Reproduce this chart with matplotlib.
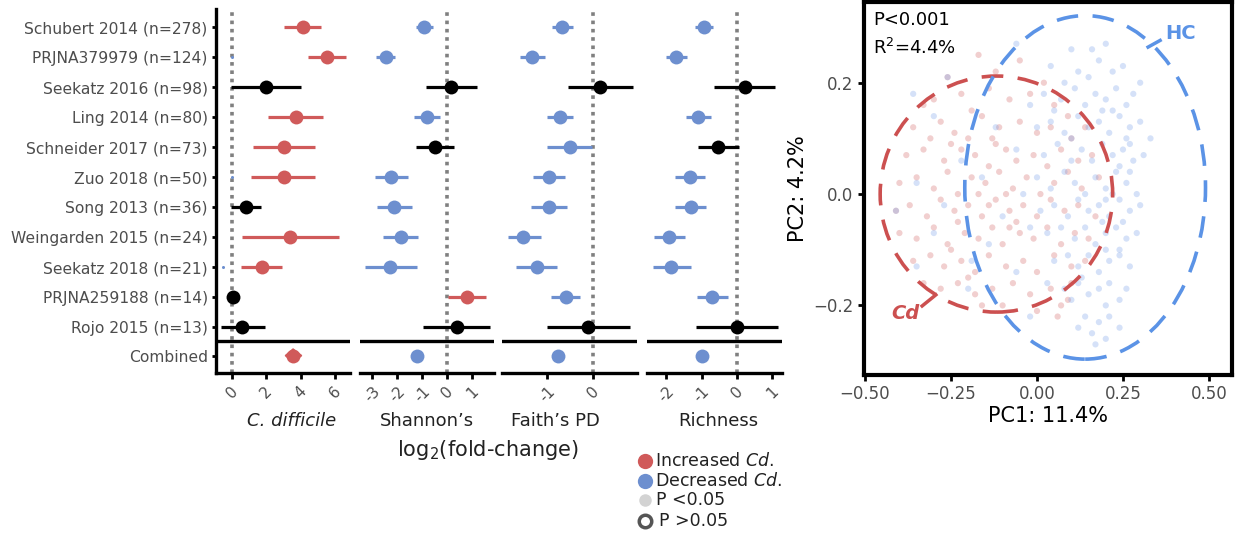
import numpy as np
import matplotlib.pyplot as plt
from matplotlib.patches import Ellipse, Polygon

# ---- forest plot data (log2 fold change) ----
studies = ['Schubert 2014 (n=278)', 'PRJNA379979 (n=124)', 'Seekatz 2016 (n=98)',
           'Ling 2014 (n=80)', 'Schneider 2017 (n=73)', 'Zuo 2018 (n=50)',
           'Song 2013 (n=36)', 'Weingarden 2015 (n=24)', 'Seekatz 2018 (n=21)',
           'PRJNA259188 (n=14)', 'Rojo 2015 (n=13)']

cdiff_est = [4.1, 5.5, 2.0, 3.7, 3.0, 3.0, 0.8, 3.4, 1.75, 0.05, 0.6]
cdiff_lo = [3.0, 4.4, -0.05, 2.1, 1.2, 1.1, -0.05, 0.6, 0.5, 0.05, -0.65]
cdiff_hi = [5.2, 6.6, 4.0, 5.3, 4.8, 4.8, 1.7, 6.2, 2.9, 0.05, 1.9]
cdiff_sig = ['up', 'up', 'ns', 'up', 'up', 'up', 'ns', 'up', 'up', 'ns', 'ns']
cdiff_comb = (3.55, 3.1, 4.05, 'up')

shan_est = [-0.92, -2.44, 0.16, -0.8, -0.48, -2.24, -2.12, -1.84, -2.28, 0.8, 0.4]
shan_lo = [-1.24, -2.84, -0.84, -1.32, -1.24, -2.88, -2.8, -2.56, -3.28, 0.04, -0.96]
shan_hi = [-0.56, -2.08, 1.2, -0.28, 0.28, -1.56, -1.4, -1.16, -1.2, 1.56, 1.72]
shan_sig = ['down', 'down', 'ns', 'down', 'ns', 'down', 'down', 'down', 'down', 'up', 'ns']
shan_comb = (-1.2, -1.2, -1.2, 'down')

faith_est = [-0.67, -1.33, 0.16, -0.71, -0.5, -0.96, -0.96, -1.52, -1.22, -0.59, -0.11]
faith_lo = [-0.89, -1.59, -0.55, -1.0, -1.0, -1.3, -1.35, -1.85, -1.67, -0.91, -1.0]
faith_hi = [-0.43, -1.04, 0.87, -0.43, -0.02, -0.6, -0.57, -1.13, -0.78, -0.28, 0.8]
faith_sig = ['down', 'down', 'ns', 'down', 'down', 'down', 'down', 'down', 'down', 'down', 'ns']
faith_comb = (-0.76, -0.76, -0.76, 'down')

rich_est = [-0.93, -1.72, 0.23, -1.1, -0.54, -1.32, -1.31, -1.91, -1.85, -0.7, 0.0]
rich_lo = [-1.18, -2.0, -0.65, -1.44, -1.1, -1.75, -1.74, -2.35, -2.37, -1.14, -1.15]
rich_hi = [-0.68, -1.41, 1.07, -0.73, 0.06, -0.9, -0.87, -1.48, -1.3, -0.26, 1.15]
rich_sig = ['down', 'down', 'ns', 'down', 'ns', 'down', 'down', 'down', 'down', 'down', 'ns']
rich_comb = (-1.0, -1.0, -1.0, 'down')

# ---- PCoA points (approximate, read by eye) ----
cd_pc1 = [-0.17, -0.05, -0.26, -0.12, 0.02, -0.30, -0.22, -0.14, -0.08, -0.19, 0.05, -0.33, -0.02, 0.09,
          -0.36, -0.28, -0.24, -0.16, -0.11, -0.05, 0.0, 0.04, -0.2, -0.31, 0.1, 0.14, -0.13,
          -0.38, -0.33, -0.27, -0.22, -0.18, -0.14, -0.09, -0.06, -0.01, 0.03, 0.07, 0.12, -0.25, -0.12, 0.16,
          -0.4, -0.35, -0.3, -0.26, -0.23, -0.19, -0.15, -0.11, -0.07, -0.03, 0.01, 0.05, 0.09, 0.13, 0.18, -0.17, -0.09,
          -0.41, -0.37, -0.32, -0.28, -0.24, -0.2, -0.16, -0.12, -0.08, -0.04, 0.0, 0.04, 0.08, 0.12, 0.17, -0.14, -0.06,
          -0.4, -0.35, -0.3, -0.26, -0.21, -0.17, -0.13, -0.1, -0.05, -0.01, 0.03, 0.07, 0.11, 0.15, -0.23, -0.08,
          -0.36, -0.31, -0.27, -0.22, -0.18, -0.14, -0.09, -0.04, 0.0, 0.05, 0.1, 0.14, -0.25,
          -0.33, -0.28, -0.23, -0.18, -0.13, -0.07, -0.02, 0.04, 0.09, 0.06, 0.1, -0.16, -0.2,
          0.07, -0.1, 0.0]
cd_pc2 = [0.25, 0.24, 0.21, 0.22, 0.2, 0.17, 0.18, 0.19, 0.17, 0.15, 0.16, 0.16, 0.18, 0.14,
          0.12, 0.13, 0.11, 0.14, 0.12, 0.13, 0.11, 0.12, 0.1, 0.1, 0.1, 0.12, 0.1,
          0.07, 0.08, 0.06, 0.08, 0.07, 0.05, 0.08, 0.06, 0.07, 0.05, 0.08, 0.06, 0.09, 0.09, 0.07,
          0.02, 0.03, 0.01, 0.04, 0.0, 0.03, 0.02, 0.04, 0.01, 0.03, 0.0, 0.02, 0.04, 0.01, 0.03, 0.0, 0.0,
          -0.03, -0.02, -0.04, -0.01, -0.03, -0.02, -0.04, -0.01, -0.03, -0.02, -0.04, -0.01, -0.03, -0.02, -0.04, -0.02, -0.05,
          -0.07, -0.08, -0.06, -0.09, -0.07, -0.08, -0.06, -0.09, -0.07, -0.08, -0.06, -0.09, -0.07, -0.08, -0.05, -0.06,
          -0.12, -0.11, -0.13, -0.12, -0.14, -0.11, -0.13, -0.12, -0.14, -0.11, -0.13, -0.12, -0.1,
          -0.16, -0.17, -0.16, -0.18, -0.17, -0.16, -0.18, -0.17, -0.19, -0.22, -0.16, -0.2, -0.15,
          -0.2, -0.2, -0.21]

hc_pc1 = [-0.06, 0.1, 0.16, 0.2,
          0.04, 0.12, 0.18, 0.22, 0.25, 0.08, 0.15, -0.26, -0.36,
          0.02, 0.07, 0.11, 0.14, 0.17, 0.2, 0.23, 0.26, 0.28, 0.05, 0.19, 0.3, -0.02,
          0.0, 0.04, 0.08, 0.12, 0.15, 0.18, 0.21, 0.24, 0.27, 0.3, 0.1, 0.22, 0.26, -0.3, -0.12,
          0.02, 0.06, 0.1, 0.13, 0.16, 0.19, 0.22, 0.25, 0.28, 0.31, 0.24, 0.27, -0.06, -0.22, 0.33,
          0.0, 0.04, 0.08, 0.11, 0.14, 0.17, 0.2, 0.23, 0.26, 0.29, 0.22, 0.27, -0.35, -0.16, -0.04,
          0.01, 0.05, 0.09, 0.12, 0.15, 0.18, 0.21, 0.24, 0.27, 0.3, 0.2, 0.25, -0.41, -0.27, -0.1,
          0.03, 0.07, 0.11, 0.14, 0.17, 0.2, 0.23, 0.26, 0.29, 0.19, 0.24, -0.3, -0.14, -0.02,
          0.05, 0.09, 0.12, 0.15, 0.18, 0.21, 0.24, 0.27, 0.2, 0.13, -0.35, -0.19, -0.06,
          0.08, 0.12, 0.15, 0.18, 0.21, 0.24, 0.26, 0.2, 0.1, -0.2, 0.03,
          0.14, 0.18, 0.21, 0.24, 0.2, 0.16, 0.12, 0.17, -0.02]
hc_pc2 = [0.27, 0.26, 0.26, 0.27,
          0.23, 0.22, 0.24, 0.22, 0.23, 0.2, 0.21, 0.21, 0.18,
          0.18, 0.17, 0.19, 0.16, 0.18, 0.17, 0.19, 0.16, 0.18, 0.15, 0.15, 0.2, 0.16,
          0.12, 0.13, 0.11, 0.14, 0.12, 0.13, 0.11, 0.14, 0.12, 0.13, 0.1, 0.15, 0.1, 0.14, 0.12,
          0.07, 0.09, 0.06, 0.08, 0.06, 0.09, 0.07, 0.08, 0.06, 0.07, 0.05, 0.09, 0.08, 0.06, 0.1,
          0.03, 0.01, 0.04, 0.02, 0.0, 0.03, 0.01, 0.04, 0.02, 0.0, 0.0, 0.04, 0.02, 0.03, 0.0,
          -0.03, -0.02, -0.04, -0.01, -0.03, -0.02, -0.04, -0.01, -0.03, -0.02, -0.01, -0.05, -0.03, -0.02, -0.04,
          -0.07, -0.06, -0.08, -0.06, -0.09, -0.07, -0.06, -0.08, -0.07, -0.05, -0.1, -0.07, -0.09, -0.06,
          -0.12, -0.11, -0.13, -0.11, -0.14, -0.12, -0.11, -0.13, -0.1, -0.15, -0.13, -0.12, -0.14,
          -0.17, -0.16, -0.18, -0.17, -0.16, -0.19, -0.17, -0.2, -0.19, -0.17, -0.16,
          -0.22, -0.23, -0.22, -0.24, -0.26, -0.25, -0.24, -0.27, -0.22]

RED = '#d05a5a'
BLUE = '#6d8fcf'
GREY_TXT = '#4d4d4d'
sig_col = {'up': RED, 'down': BLUE, 'ns': 'black'}

plt.rcParams['font.family'] = 'DejaVu Sans'
fig = plt.figure(figsize=(12.41, 5.33), dpi=100)

H = 533.0
W = 1241.0
panels = [
    (216, 350, (-0.93, 6.86), [0, 2, 4, 6], cdiff_est, cdiff_lo, cdiff_hi, cdiff_sig, cdiff_comb),
    (360, 494, (-3.5, 1.88), [-3, -2, -1, 0, 1], shan_est, shan_lo, shan_hi, shan_sig, shan_comb),
    (502, 637, (-1.98, 0.96), [-1, 0], faith_est, faith_lo, faith_hi, faith_sig, faith_comb),
    (647, 782, (-2.54, 1.27), [-2, -1, 0, 1], rich_est, rich_lo, rich_hi, rich_sig, rich_comb),
]
comb_y = 10.95
rows = np.arange(len(studies))

for k, (x0, x1, xl, ticks, est, lo, hi, sig, comb) in enumerate(panels):
    ax = fig.add_axes([x0 / W, 1 - 373 / H, (x1 - x0) / W, 364 / H])
    ax.set_xlim(*xl)
    ax.set_ylim(11.53, -0.6)
    ax.axvline(0, color='#808080', lw=2.6, ls=(0, (1, 1.3)), zorder=1)
    ax.axhline(10.47, color='black', lw=2.4, zorder=2)
    for i in rows:
        c = sig_col[sig[i]]
        ax.plot([lo[i], hi[i]], [i, i], color=c, lw=2.3, solid_capstyle='butt', zorder=3)
        ax.plot(est[i], i, 'o', color=c, ms=10, mec='none', zorder=4)
    ce, cl, ch, cs = comb
    if ch > cl:
        ax.add_patch(Polygon([[cl, comb_y], [ce, comb_y - 0.22], [ch, comb_y], [ce, comb_y + 0.22]],
                             closed=True, color=sig_col[cs], zorder=3))
    ax.plot(ce, comb_y, 'o', color=sig_col[cs], ms=10, mec='none', zorder=4)
    ax.set_xticks(ticks)
    ax.set_xticklabels([str(t) for t in ticks], rotation=45, fontsize=11, color=GREY_TXT)
    ax.tick_params(axis='x', length=4, width=2, pad=4)
    for s in ['top', 'right']:
        ax.spines[s].set_visible(False)
    ax.spines['bottom'].set_linewidth(2.4)
    if k == 0:
        ax.spines['left'].set_linewidth(2.4)
        ax.set_yticks(list(rows) + [comb_y])
        ax.set_yticklabels(studies + ['Combined'], fontsize=11.2, color=GREY_TXT)
        ax.tick_params(axis='y', length=3, width=2, pad=3)
        # near-zero-size points visible in the reference
        ax.plot([0.0, 0.0, -0.55], [1, 5, 8], 'o', color=BLUE, ms=2.2, mec='none', zorder=4)
    else:
        ax.spines['left'].set_visible(False)
        ax.set_yticks([])

# ---- overlay for labels and legend (pixel coordinates) ----
ov = fig.add_axes([0, 0, 1, 1], facecolor='none')
ov.set_xlim(0, W)
ov.set_ylim(H, 0)
ov.axis('off')
ov.text(292, 421, 'C. difficile', fontsize=13, style='italic', ha='center', va='center', color='#222222')
ov.text(427, 421, 'Shannon\u2019s', fontsize=13, ha='center', va='center', color='#222222')
ov.text(555, 421, 'Faith\u2019s PD', fontsize=13, ha='center', va='center', color='#222222')
ov.text(718, 421, 'Richness', fontsize=13, ha='center', va='center', color='#222222')
ov.text(488, 450, r'log$_2$(fold-change)', fontsize=15, ha='center', va='center', color='#222222')

leg_y = [461, 481, 500, 521]
ov.plot(645, leg_y[0], 'o', ms=11, color=RED, mec='none')
ov.plot(645, leg_y[1], 'o', ms=11, color=BLUE, mec='none')
ov.plot(645, leg_y[2], 'o', ms=9, color='#d3d3d3', mec='none')
ov.plot(645, leg_y[3], 'o', ms=9, mfc='white', mec='#555555', mew=2.5)
ov.text(655, leg_y[0], r'Increased $\mathit{Cd.}$', fontsize=12.5, va='center', color='#222222')
ov.text(655, leg_y[1], r'Decreased $\mathit{Cd.}$', fontsize=12.5, va='center', color='#222222')
ov.text(656, leg_y[2], 'P <0.05', fontsize=12.5, va='center', color='#222222')
ov.text(659, leg_y[3], 'P >0.05', fontsize=12.5, va='center', color='#222222')

# ---- PCoA panel ----
ap = fig.add_axes([864 / W, 1 - 375 / H, 368 / W, 373 / H])
ap.scatter(cd_pc1, cd_pc2, s=20, color='#d46a6a', alpha=0.32, edgecolors='none', zorder=2)
ap.scatter(hc_pc1, hc_pc2, s=20, color='#7da4ea', alpha=0.32, edgecolors='none', zorder=2)
ap.add_patch(Ellipse((-0.118, 0.0), 0.676, 0.424, fill=False, ec='#cc5050', lw=2.6,
                     ls=(0, (6, 4)), zorder=3))
ap.add_patch(Ellipse((0.14, 0.012), 0.70, 0.617, fill=False, ec='#5b93e6', lw=2.6,
                     ls=(0, (6, 4)), zorder=3))
ap.plot([0.323, 0.358], [0.264, 0.276], color='#5b93e6', lw=2.5)
ap.plot([-0.334, -0.294], [-0.201, -0.181], color='#cc5050', lw=2.5)
ap.text(0.418, 0.289, 'HC', color='#5b93e6', fontsize=14, fontweight='bold', ha='center', va='center')
ap.text(-0.384, -0.214, 'Cd', color='#cc5050', fontsize=14, fontweight='bold', style='italic',
        ha='center', va='center')
ap.text(0.025, 0.975, 'P<0.001', transform=ap.transAxes, fontsize=13, va='top')
ap.text(0.025, 0.905, r'R$^2$=4.4%', transform=ap.transAxes, fontsize=13, va='top')
ap.set_xlim(-0.503, 0.567)
ap.set_ylim(-0.325, 0.345)
ap.set_xticks([-0.5, -0.25, 0, 0.25, 0.5])
ap.set_xticklabels(['\u22120.50', '\u22120.25', '0.00', '0.25', '0.50'], fontsize=12, color=GREY_TXT)
ap.set_yticks([-0.2, 0, 0.2])
ap.set_yticklabels(['\u22120.2', '0.0', '0.2'], fontsize=12, color=GREY_TXT)
ap.tick_params(length=4, width=2)
for s in ap.spines.values():
    s.set_linewidth(3)
ap.set_xlabel('PC1: 11.4%', fontsize=15, labelpad=2)
ap.set_ylabel('PC2: 4.2%', fontsize=15, labelpad=4)

fig.savefig('out.png', dpi=100)
